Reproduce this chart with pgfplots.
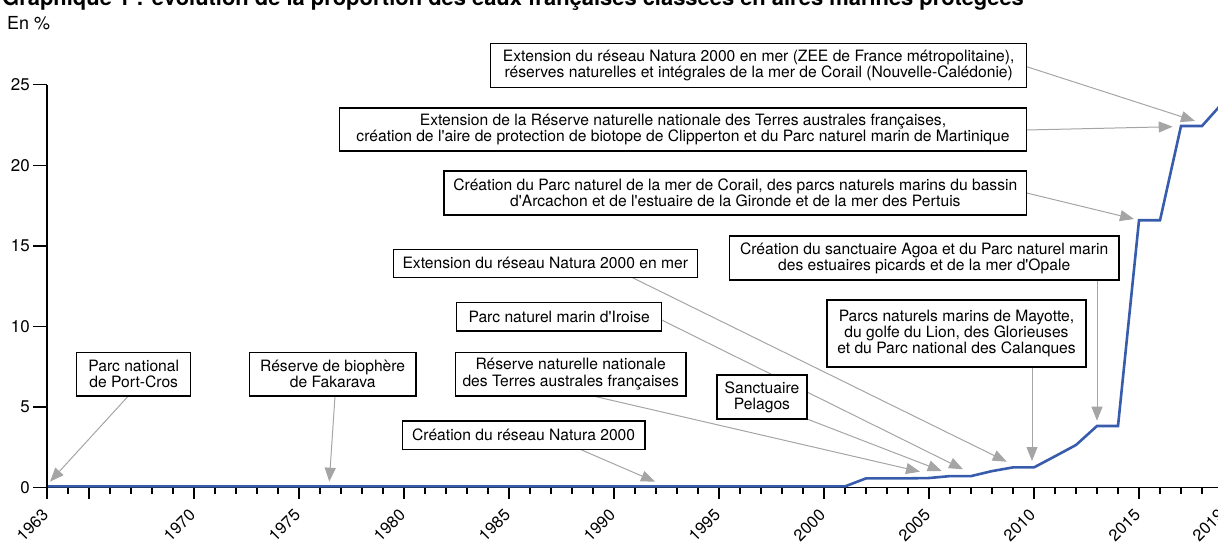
\documentclass[border=0pt]{standalone}
\usepackage{pgfplots}
\usepackage{pgfplotstable}
\pgfplotsset{compat=1.18}
\usepackage{fontspec}
\setmainfont{TeX Gyre Heros}[Ligatures=TeXOff]
\usetikzlibrary{arrows.meta}
\definecolor{lineblue}{RGB}{56,92,172}
\definecolor{arrgray}{RGB}{165,165,165}
\pgfplotstableread{
year value
1963 0.08
1964 0.08
1965 0.08
1966 0.08
1967 0.08
1968 0.08
1969 0.08
1970 0.08
1971 0.08
1972 0.08
1973 0.08
1974 0.08
1975 0.08
1976 0.08
1977 0.08
1978 0.08
1979 0.08
1980 0.08
1981 0.08
1982 0.08
1983 0.08
1984 0.08
1985 0.08
1986 0.08
1987 0.08
1988 0.08
1989 0.08
1990 0.08
1991 0.08
1992 0.08
1993 0.08
1994 0.08
1995 0.08
1996 0.08
1997 0.08
1998 0.08
1999 0.08
2000 0.08
2001 0.08
2002 0.58
2003 0.58
2004 0.58
2005 0.60
2006 0.72
2007 0.72
2008 1.03
2009 1.26
2010 1.26
2011 1.95
2012 2.65
2013 3.83
2014 3.83
2015 16.59
2016 16.59
2017 22.44
2018 22.44
2019 23.9
}\datatable
\begin{document}
\begin{tikzpicture}
\pgfplotsset{
  base/.style={
    at={(47bp,-487.7bp)}, anchor=south west,
    x=21bp, y=16.12bp,
    xmin=1963, xmax=2019, ymin=0, ymax=25,
    enlargelimits=false, clip=false,
    axis line style={black, line width=1.2bp},
    tick style={black, line width=1.5bp},
    /pgf/number format/assume math mode=true,
  }
}
% x axis, ticks, labels and data
\begin{axis}[base,
  axis x line*=bottom, axis y line=none,
  ytick=\empty,
  xtick={1963,1965,1970,1975,1980,1985,1990,1995,2000,2005,2010,2015,2019},
  xticklabels={1963,,1970,1975,1980,1985,1990,1995,2000,2005,2010,2015,2019},
  xtick align=outside, major tick length=11bp,
  xticklabel style={font=\fontsize{16.5}{16.5}\selectfont, inner sep=0pt, xshift=-6bp, yshift=-9bp, rotate=45, anchor=north east},
]
% yearly minor tick marks below the axis
\addplot[black, line width=1.5bp, ycomb, forget plot] coordinates {
(1964,-0.42) (1966,-0.42) (1967,-0.42) (1968,-0.42) (1969,-0.42)
(1971,-0.42) (1972,-0.42) (1973,-0.42) (1974,-0.42)
(1976,-0.42) (1977,-0.42) (1978,-0.42) (1979,-0.42)
(1981,-0.42) (1982,-0.42) (1983,-0.42) (1984,-0.42)
(1986,-0.42) (1987,-0.42) (1988,-0.42) (1989,-0.42)
(1991,-0.42) (1992,-0.42) (1993,-0.42) (1994,-0.42)
(1996,-0.42) (1997,-0.42) (1998,-0.42) (1999,-0.42)
(2001,-0.42) (2002,-0.42) (2003,-0.42) (2004,-0.42)
(2006,-0.42) (2007,-0.42) (2008,-0.42) (2009,-0.42)
(2011,-0.42) (2012,-0.42) (2013,-0.42) (2014,-0.42)
(2016,-0.42) (2017,-0.42) (2018,-0.42)
};
\addplot[lineblue, line width=2.6bp] table[x=year,y=value]{\datatable};
\end{axis}
% y axis
\begin{axis}[base,
  axis x line=none, axis y line*=left,
  xtick=\empty,
  ytick={0,5,10,15,20,25}, ytick align=outside, major tick length=14bp,
  yticklabel style={font=\fontsize{17}{17}\selectfont, inner sep=0pt, xshift=-3bp},
]
\end{axis}
\begin{scope}[x=1bp,y=-1bp]
\tikzset{
  box/.style={draw=black, line width=1.2bp, fill=white},
  arr/.style={draw=arrgray, line width=1bp, -{Triangle[length=14bp,width=11bp]}, arrgray},
  lbl/.style={align=center, font=\fontsize{15.7}{16.3}\selectfont, inner sep=0pt}
}
% title
\node[anchor=base west, font=\bfseries\fontsize{22}{22}\selectfont, inner sep=0pt] at (2,6) {Graphique 1 : évolution de la proportion des eaux françaises classées en aires marines protégées};
\node[anchor=base west, font=\fontsize{18}{18}\selectfont, inner sep=0pt] at (7,29.5) {En \%};
% arrows
\draw[arr] (1026.7,66.7) -- (1195,121);
\draw[arr] (1026.7,130) -- (1172.7,126.7);
\draw[arr] (1026.7,193) -- (1134,219);
\draw[arr] (1097,280) -- (1097,420.7);
\draw[arr] (1032,367) -- (1032,461);
\draw[arr] (631.7,277.3) -- (1006.7,461.7);
\draw[arr] (661.7,320) -- (963,469.3);
\draw[arr] (593,396) -- (920,471.7);
\draw[arr] (807,419) -- (941.7,471);
\draw[arr] (580,449.3) -- (655,481.7);
\draw[arr] (128.3,396) -- (50,481.7);
\draw[arr] (335,396) -- (329.3,481.7);
% boxes
\draw[box] (490.7,43.3) rectangle (1026.7,87.3);
\node[lbl] at (758.7,65.3) {Extension du réseau Natura 2000 en mer (ZEE de France métropolitaine),\\réserves naturelles et intégrales de la mer de Corail (Nouvelle-Calédonie)};
\draw[box] (339.3,108) rectangle (1026.7,151);
\node[lbl] at (683,129.5) {Extension de la Réserve naturelle nationale des Terres australes françaises,\\création de l'aire de protection de biotope de Clipperton et du Parc naturel marin de Martinique};
\draw[box] (444,171) rectangle (1026.7,215);
\node[lbl] at (735.35,193) {Création du Parc naturel de la mer de Corail, des parcs naturels marins du bassin\\d'Arcachon et de l'estuaire de la Gironde et de la mer des Pertuis};
\draw[box] (729.3,236) rectangle (1119,280);
\node[lbl] at (924.15,258) {Création du sanctuaire Agoa et du Parc naturel marin\\des estuaires picards et de la mer d'Opale};
\draw[box] (827,300) rectangle (1086,367);
\node[lbl] at (956.5,333.5) {Parcs naturels marins de Mayotte,\\du golfe du Lion, des Glorieuses\\et du Parc national des Calanques};
\draw[box] (393.3,249.3) rectangle (697.3,277.3);
\node[lbl] at (545.3,263.3) {Extension du réseau Natura 2000 en mer};
\draw[box] (456.7,302.7) rectangle (661.7,331);
\node[lbl] at (559.2,316.85) {Parc naturel marin d'Iroise};
\draw[box] (455.3,352.3) rectangle (686,396);
\node[lbl] at (570.65,374.15) {Réserve naturelle nationale\\des Terres australes françaises};
\draw[box] (717,375) rectangle (807,419);
\node[lbl] at (762,397) {Sanctuaire\\Pelagos};
\draw[box] (402.3,421) rectangle (645,449.3);
\node[lbl] at (523.65,435.15) {Création du réseau Natura 2000};
\draw[box] (76.7,352.3) rectangle (190.7,396);
\node[lbl] at (133.7,374.15) {Parc national\\de Port-Cros};
\draw[box] (249.3,352.3) rectangle (416,396);
\node[lbl] at (332.65,374.15) {Réserve de biophère\\de Fakarava};
\pgfresetboundingbox
\path[use as bounding box] (0,0) rectangle (1218,543);
\end{scope}
\end{tikzpicture}
\end{document}
